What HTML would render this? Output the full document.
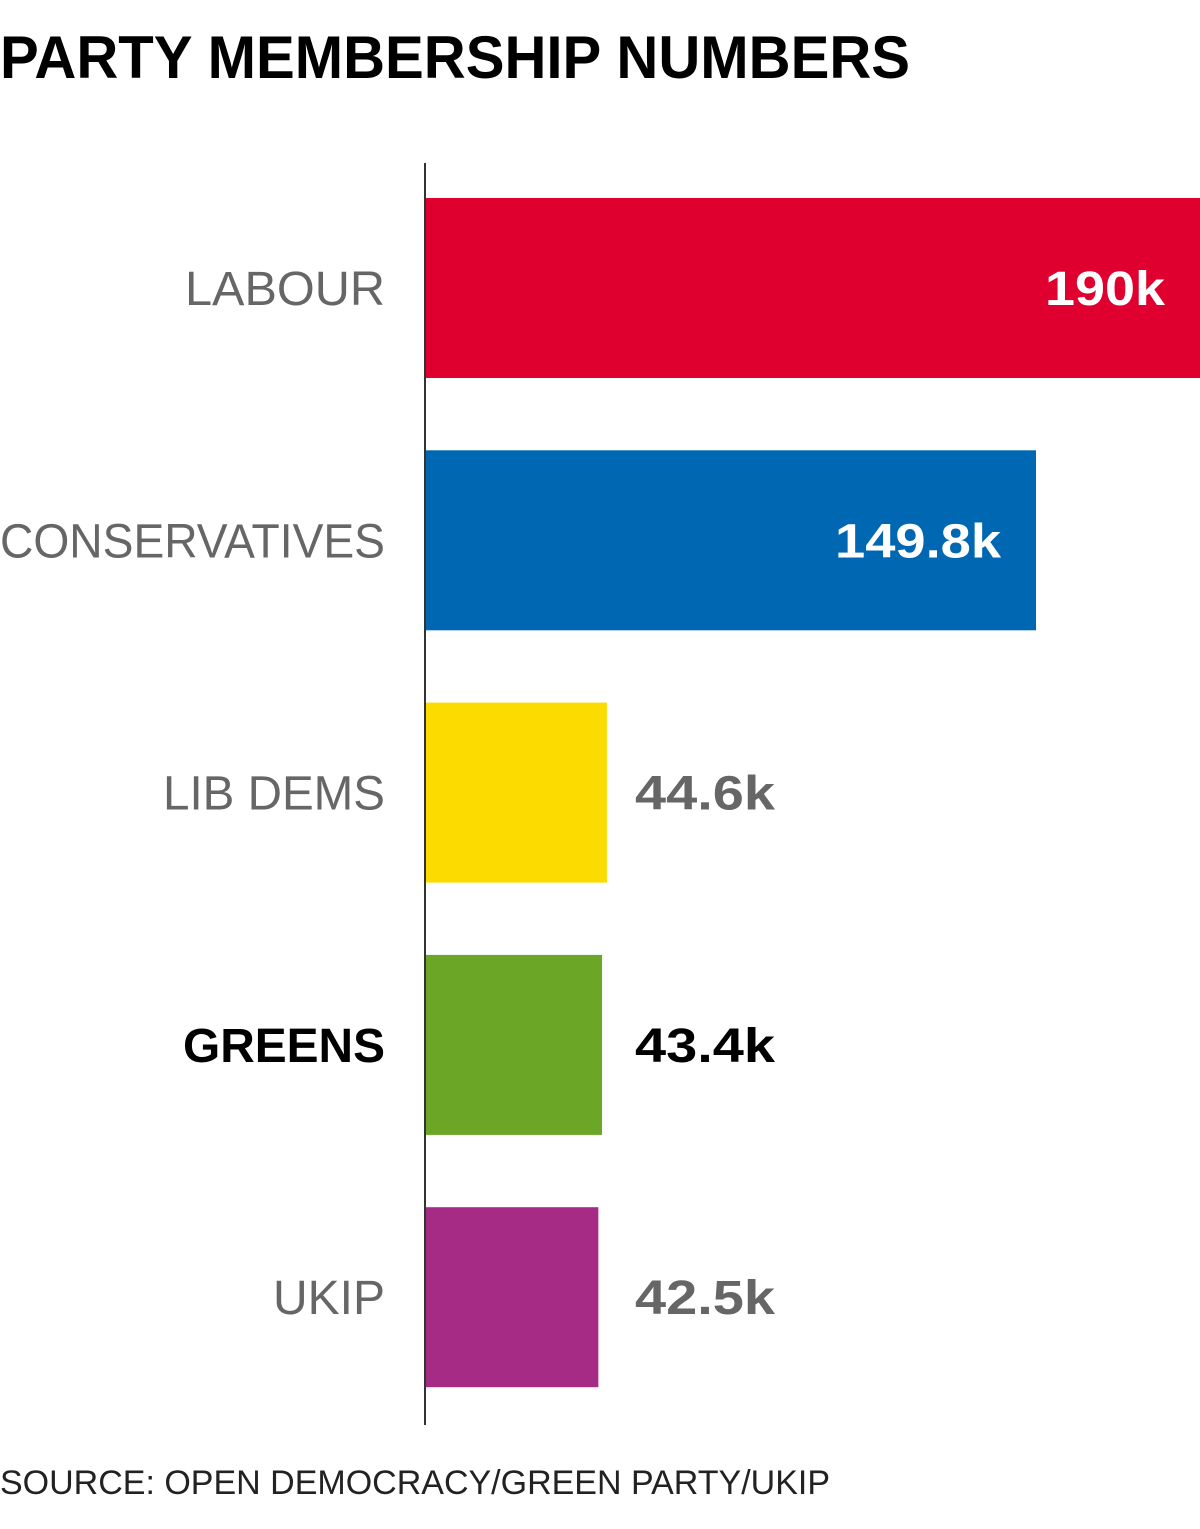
<!DOCTYPE html>
<html><head><meta charset="utf-8"><style>
html,body{margin:0;padding:0;background:#fff;}
svg{display:block;font-family:"Liberation Sans",sans-serif;}
</style></head><body>
<svg width="1200" height="1529" viewBox="0 0 1200 1529">
<text x="0" y="78" font-size="60" font-weight="bold" fill="#000" textLength="910" lengthAdjust="spacingAndGlyphs">PARTY MEMBERSHIP NUMBERS</text>
<g id="bars"></g>
<line x1="425" y1="163" x2="425" y2="1425" stroke="#333" stroke-width="2"/>
<text x="0" y="1494" font-size="34" fill="#222" textLength="830" lengthAdjust="spacingAndGlyphs">SOURCE: OPEN DEMOCRACY/GREEN PARTY/UKIP</text>
</svg>
<script>
const categories = ["LABOUR","CONSERVATIVES","LIB DEMS","GREENS","UKIP"];
const values = [190, 149.8, 44.6, 43.4, 42.5];
const valueLabels = ["190k","149.8k","44.6k","43.4k","42.5k"];
const colors = ["#e0002f","#0068b3","#fcdb00","#6ca626","#a62b84"];
const labelWidths = [200,385,222,202,112];
const valueWidths = [120,166,140,140,140];
const NS="http://www.w3.org/2000/svg";
const x0=425, pxPerUnit=775/190;
function xScale(v){return x0+v*pxPerUnit;}
function yTop(i){return 198+i*252.3;}
const barH=180;
const g=document.getElementById('bars');
categories.forEach((c,i)=>{
  const y=yTop(i), w=xScale(values[i])-x0;
  const r=document.createElementNS(NS,'rect');
  r.setAttribute('x',x0);r.setAttribute('y',y);r.setAttribute('width',w);r.setAttribute('height',barH);r.setAttribute('fill',colors[i]);
  
  
  g.appendChild(r);
  const bold = c==="GREENS";
  const t=document.createElementNS(NS,'text');
  t.setAttribute('x',385);t.setAttribute('y',y+barH/2+17);t.setAttribute('text-anchor','end');
  t.setAttribute('font-size','48');t.setAttribute('fill',bold?'#000':'#666');
  if(bold)t.setAttribute('font-weight','bold');
  t.setAttribute('textLength',labelWidths[i]);t.setAttribute('lengthAdjust','spacingAndGlyphs');
  t.textContent=c;
  
  
  g.appendChild(t);
  const v=document.createElementNS(NS,'text');
  const inside = w>400;
  v.setAttribute('y',y+barH/2+17);v.setAttribute('font-size','48');v.setAttribute('font-weight','bold');
  v.setAttribute('textLength',valueWidths[i]);v.setAttribute('lengthAdjust','spacingAndGlyphs');
  if(inside){v.setAttribute('x',xScale(values[i])-35);v.setAttribute('text-anchor','end');v.setAttribute('fill','#fff');}
  else{v.setAttribute('x',635);v.setAttribute('fill',bold?'#000':'#666');}
  v.textContent=valueLabels[i];
  
  
  g.appendChild(v);
});
</script>
</body></html>
